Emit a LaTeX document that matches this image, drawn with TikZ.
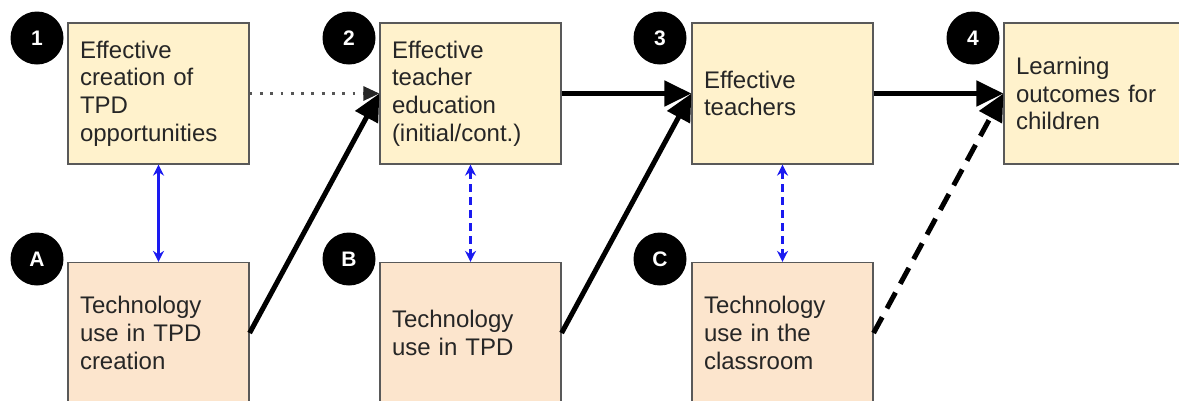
\documentclass[tikz,border=0pt]{standalone}
\usepackage{fontspec}
\setmainfont{Liberation Sans}
\usetikzlibrary{arrows.meta}

\definecolor{topfill}{HTML}{FFF2CC}
\definecolor{botfill}{HTML}{FCE5CD}
\definecolor{boxline}{HTML}{595959}
\definecolor{linkblue}{HTML}{1A1AF0}
\definecolor{dotgray}{HTML}{555555}

\begin{document}
\begin{tikzpicture}[x=1pt,y=-1pt]

      \useasboundingbox (0,0) rectangle (1179,400);
      \clip (0,0) rectangle (1179,400);

      \begin{scope}[every node/.style={draw=boxline, line width=1.2pt, minimum width=181pt, minimum height=141pt,
          text width=157pt, inner sep=12pt, align=left, text=black!85, font=\fontsize{24}{27.6}\selectfont}]
        \node[fill=topfill] (1) at (158.5,93.5) {Effective\\creation of\\TPD\\opportunities};
        \node[fill=topfill] (2) at (470.5,93.5) {Effective\\teacher\\education\\(initial/cont.)};
        \node[fill=topfill] (3) at (782.5,93.5) {Effective\\teachers};
        \node[fill=topfill] (4) at (1094.5,93.5) {Learning\\outcomes for\\children};
        \node[fill=botfill] (A) at (158.5,333) {Technology\\use in TPD\\creation};
        \node[fill=botfill] (B) at (470.5,333) {Technology\\use in TPD};
        \node[fill=botfill] (C) at (782.5,333) {Technology\\use in the\\classroom};
      \end{scope}

      \begin{scope}[every node/.style={circle, fill=black, text=white, minimum size=53pt, inner sep=0pt,
          font=\fontsize{21}{21}\bfseries\selectfont}]
        \node (n1) at (37,38)  {1};
        \node (n2) at (349,38) {2};
        \node (n3) at (660,38) {3};
        \node (n4) at (973,38) {4};
        \node (nA) at (37,259)  {A};
        \node (nB) at (349,259) {B};
        \node (nC) at (660,259) {C};
      \end{scope}

      \begin{scope}[every edge/.style={draw, line width=5pt, -{Triangle[length=27pt,width=25pt]}}]
        \path (2) edge (3);
        \path (3) edge (4);
        \path (A.east) edge (2.west);
        \path (B.east) edge (3.west);
        \path (C.east) edge[dash pattern=on 18pt off 10pt] (4.west);
      \end{scope}

      \path (1) edge[draw=dotgray, line width=2.8pt, dash pattern=on 2.8pt off 7.5pt,
        -{Triangle[length=16pt,width=14pt,color=black!85]}] (2);

      \begin{scope}[every edge/.style={draw=linkblue, line width=2.4pt,
          {Stealth[length=11pt,width=11pt]}-{Stealth[length=11pt,width=11pt]}}]
        \path (1) edge (A);
        \path (2) edge[dash pattern=on 8pt off 5pt] (B);
        \path (3) edge[dash pattern=on 8pt off 5pt] (C);
      \end{scope}

    \end{tikzpicture}
\end{document}
